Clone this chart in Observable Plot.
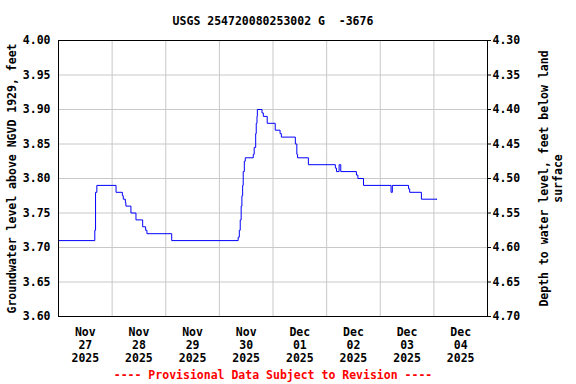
<!DOCTYPE html>
<html>
<head>
<meta charset="utf-8">
<script src="https://cdn.jsdelivr.net/npm/d3@7"></script>
<script src="https://cdn.jsdelivr.net/npm/@observablehq/plot@0.6"></script>
<style>
  html, body { margin: 0; padding: 0; background: #fff; }
</style>
</head>
<body>
<div id="chart"></div>
<script>
// ---- data ----
const title = "USGS 254720080253002 G  -3676";
const caption = "---- Provisional Data Subject to Revision ----";
const leftLabel = "Groundwater level above NGVD 1929, feet";
const rightLabel = "Depth to water level, feet below land\nsurface";

const times = [
  "2025-11-27 00:00", "2025-11-27 16:15", "2025-11-27 16:35", "2025-11-27 17:10",
  "2025-11-28 01:45", "2025-11-28 04:35", "2025-11-28 05:00", "2025-11-28 05:55",
  "2025-11-28 06:10", "2025-11-28 08:25", "2025-11-28 10:40", "2025-11-28 13:40",
  "2025-11-28 15:00", "2025-11-28 15:35", "2025-11-29 02:40",
  "2025-11-30 08:25", "2025-11-30 08:55", "2025-11-30 09:20", "2025-11-30 09:45",
  "2025-11-30 10:05", "2025-11-30 10:25", "2025-11-30 10:40", "2025-11-30 11:10",
  "2025-11-30 11:35", "2025-11-30 15:10", "2025-11-30 15:35", "2025-11-30 16:15",
  "2025-11-30 16:30", "2025-11-30 16:50", "2025-11-30 17:00", "2025-11-30 19:05",
  "2025-11-30 19:40", "2025-11-30 21:25",
  "2025-12-01 01:00", "2025-12-01 03:10", "2025-12-01 03:45", "2025-12-01 10:00",
  "2025-12-01 10:40", "2025-12-01 11:00", "2025-12-01 15:50",
  "2025-12-02 03:55", "2025-12-02 04:25", "2025-12-02 05:35", "2025-12-02 06:20",
  "2025-12-02 13:20", "2025-12-02 14:00", "2025-12-02 16:30",
  "2025-12-03 04:50", "2025-12-03 05:25", "2025-12-03 12:40", "2025-12-03 13:10",
  "2025-12-03 18:25", "2025-12-04 01:25"
];
const levels = [
  3.71, 3.725, 3.78, 3.79,
  3.78, 3.775, 3.77, 3.765,
  3.76, 3.75, 3.74, 3.73,
  3.725, 3.72, 3.71,
  3.715, 3.725, 3.74, 3.76,
  3.775, 3.79, 3.81, 3.825,
  3.83, 3.835, 3.845, 3.865,
  3.88, 3.89, 3.90, 3.895,
  3.89, 3.88,
  3.87, 3.865, 3.86, 3.85,
  3.835, 3.83, 3.82,
  3.815, 3.81, 3.82, 3.81,
  3.805, 3.80, 3.79,
  3.78, 3.79, 3.785, 3.78,
  3.77, 3.77
];

const yTicks = [3.60, 3.65, 3.70, 3.75, 3.80, 3.85, 3.90, 3.95, 4.00];
const depthLabels = ["4.70", "4.65", "4.60", "4.55", "4.50", "4.45", "4.40", "4.35", "4.30"];
const gridDays = ["2025-11-28", "2025-11-29", "2025-11-30", "2025-12-01", "2025-12-02", "2025-12-03", "2025-12-04"];
const labelDays = ["2025-11-27", "2025-11-28", "2025-11-29", "2025-11-30", "2025-12-01", "2025-12-02", "2025-12-03", "2025-12-04"];
const xLabels = ["Nov\n27\n2025", "Nov\n28\n2025", "Nov\n29\n2025", "Nov\n30\n2025",
                 "Dec\n01\n2025", "Dec\n02\n2025", "Dec\n03\n2025", "Dec\n04\n2025"];
const xDomain = ["2025-11-27", "2025-12-05"];
const yDomain = [3.60, 4.00];

// ---- build ----
const parseT = d3.utcParse("%Y-%m-%d %H:%M");
const parseD = d3.utcParse("%Y-%m-%d");
const series = times.map((t, i) => ({date: parseT(t), level: levels[i]}));
const labelData = labelDays.map((d, i) => ({date: d3.utcHour.offset(parseD(d), 12), label: xLabels[i]}));
const depthMap = new Map(yTicks.map((v, i) => [v, depthLabels[i]]));

const chart = Plot.plot({
  width: 576,
  height: 384,
  marginLeft: 58,
  marginRight: 89,
  marginTop: 40,
  marginBottom: 68,
  style: {fontFamily: "'DejaVu Sans Mono', monospace", fontSize: "11.5px", fontWeight: "bold", background: "#fff", color: "#000"},
  x: {type: "utc", domain: xDomain.map(parseD), axis: null},
  y: {domain: yDomain, axis: null},
  marks: [
    Plot.gridX(gridDays.map(parseD), {stroke: "#c8c8c8", strokeOpacity: 1}),
    Plot.gridY(yTicks.slice(1, -1), {stroke: "#c8c8c8", strokeOpacity: 1}),
    Plot.line(series, {x: "date", y: "level", curve: "step-after", stroke: "#0000ff", strokeWidth: 1}),
    Plot.frame({stroke: "#000"}),
    Plot.axisY({anchor: "left", ticks: yTicks, tickFormat: d3.format(".2f"), tickSize: 0, tickPadding: 8, label: null}),
    Plot.axisY({anchor: "right", ticks: yTicks, tickFormat: d => depthMap.get(d), tickSize: 3, tickPadding: 2, label: null}),
    Plot.text(labelData, {x: "date", text: "label", frameAnchor: "bottom", lineAnchor: "top", dy: 10, lineHeight: 1.13}),
    Plot.text([title], {frameAnchor: "top", dy: -24}),
    Plot.text([caption], {frameAnchor: "bottom", dy: 62, fill: "#ff0000"}),
    Plot.text([leftLabel], {frameAnchor: "left", textAnchor: "middle", dx: -46, rotate: -90}),
    Plot.text([rightLabel], {frameAnchor: "right", textAnchor: "middle", dx: 63, rotate: -90, lineHeight: 1.2})
  ]
});
document.getElementById("chart").appendChild(chart);
</script>
</body>
</html>
